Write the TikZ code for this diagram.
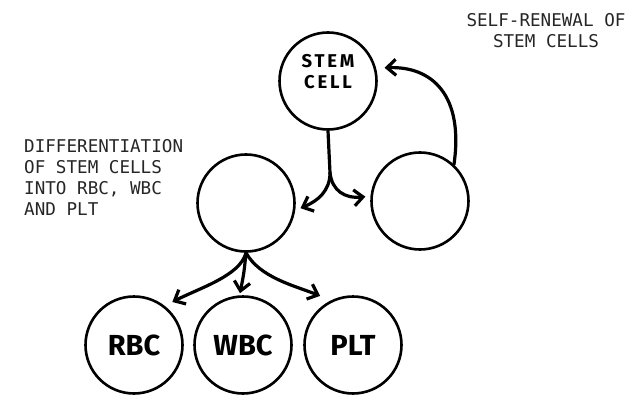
\documentclass[tikz,border=0pt]{standalone}
\usepackage{fontspec}
\usetikzlibrary{arrows.meta,calc}
\newfontfamily\monofam{DejaVu Sans Mono}
\newfontfamily\handfam{Fira Sans}
\newfontfamily\handsp{Fira Sans}[LetterSpace=15]
\begin{document}
\begin{tikzpicture}[x=1pt,y=1pt,
  cell/.style={circle, draw, line width=2.6pt, minimum size=97pt, inner sep=0pt},
  arr/.style={line width=3.2pt, line cap=round, -{Straight Barb[length=9pt,width=16pt]}},
  lbl/.style={font=\handfam\bfseries\fontsize{29}{30}\selectfont},
  note/.style={font=\monofam\fontsize{17.6}{21}\selectfont, text=black!85, inner sep=0pt}]
\useasboundingbox (0,0) rectangle (637,405);
\node[cell, label={[align=center, yshift=9pt, font=\handsp\bfseries\fontsize{18.5}{21}\selectfont]center:STEM\\CELL}] (stem) at (328,324) {};
\node[cell] (right) at (420,204) {};
\node[cell] (mid) at (246,202) {};
\node[cell, lbl] (rbc) at (134,60) {RBC};
\node[cell, lbl] (wbc) at (243,60) {WBC};
\node[cell, lbl] (plt) at (353,60) {PLT};
\node[note, anchor=north west, align=left] (diff) at (24,266) {DIFFERENTIATION\\OF STEM CELLS\\INTO RBC, WBC\\AND PLT};
\node[note, align=center] (self) at (546,374) {SELF-RENEWAL OF\\STEM CELLS};
\coordinate (jn) at ($(stem.south)+(2,-42)$);
\draw[line width=3.2pt] (stem.south) -- (jn);
\draw[arr] (jn) .. controls ($(jn)+(0,-18)$) and ($(jn)+(-12,-28)$) .. ($(mid.-6)+(5,0)$);
\draw[arr] (jn) .. controls ($(jn)+(2,-18)$) and ($(jn)+(15,-26)$) .. ($(right.175)+(-5,0)$);
\draw[arr] (right.47) .. controls (464,310) and (432,339) .. ($(stem.13)+(8,2)$);
\draw[arr] (mid.south) .. controls ($(mid.south)+(-6,-23)$) and ($(mid.south)+(-46,-35)$) .. ($(rbc.48)+(5,6)$);
\draw[arr] (mid.south) .. controls ($(mid.south)+(-2,-20)$) .. ($(wbc.north)+(-3,2)$);
\draw[arr] (mid.south) .. controls ($(mid.south)+(14,-25)$) and ($(mid.south)+(49,-33)$) .. ($(plt.120)+(-8,6)$);
\end{tikzpicture}
\end{document}
